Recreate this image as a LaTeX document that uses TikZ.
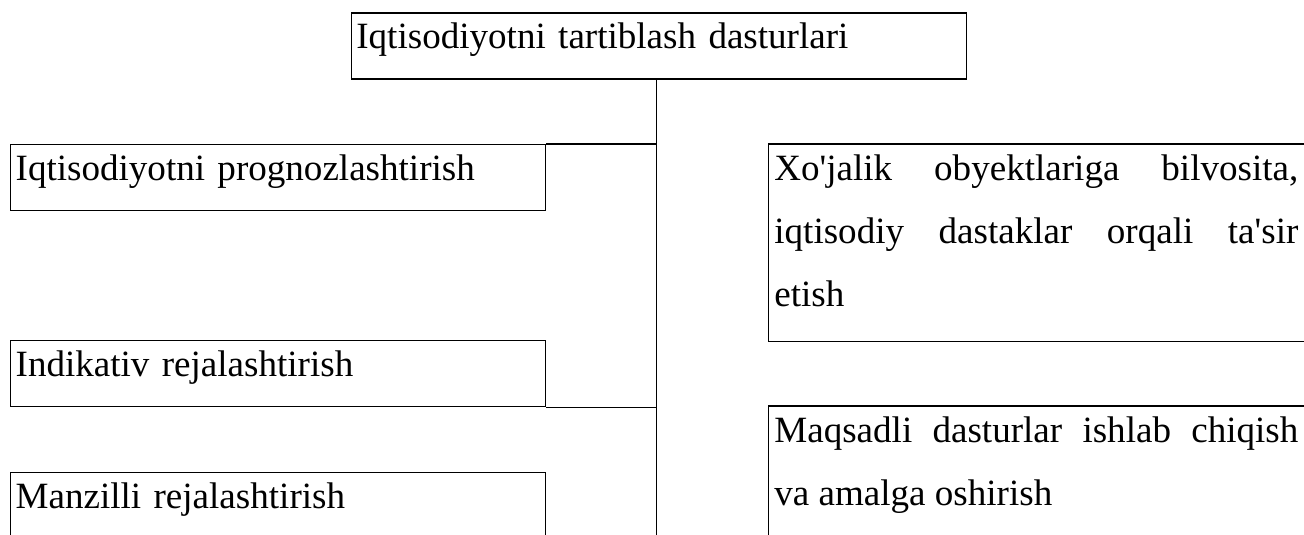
\documentclass[tikz,border=0pt]{standalone}
\usepackage{fontspec}
\setmainfont{Liberation Serif}

\tikzset{every picture/.style={line width=1pt}}
\tikzset{
  box/.style={draw, anchor=north west, inner xsep=3.75pt, inner ysep=0pt,
    text width=393.75pt, text height=27pt, text depth=22.5pt, align=left,
    font=\fontsize{27.8}{47.25}\selectfont},
  openbox/.style={anchor=north west, inner xsep=3.75pt, inner ysep=0pt,
    text width=393pt, text height=27pt, text depth=120pt, align=justify,
    font=\fontsize{27.8}{47.25}\selectfont,
    execute at begin node={\tolerance=10000 \hyphenpenalty=10000 }}
}

\begin{document}
\begin{tikzpicture}[x=0.75pt,y=0.75pt,yscale=-1,xscale=1]
\useasboundingbox (0,0) rectangle (1304,535);
\clip (0,0) rectangle (1304,535);

% Text Node
\node [box, text width=454pt] (plan) at (350.7,12.3) {Iqtisodiyotni tartiblash dasturlari};
% Text Node
\node [box] (prognoz) at (10,144) {Iqtisodiyotni prognozlashtirish};
% Text Node
\node [box] (indikativ) at (10,340) {Indikativ rejalashtirish};
% Text Node
\node [box] (manzilli) at (10,471.7) {Manzilli rejalashtirish};
% Text Node
\node [openbox] (xojalik) at (768.7,144) {Xo\textquotesingle jalik obyektlariga bilvosita,\linebreak iqtisodiy dastaklar orqali ta\textquotesingle sir\linebreak etish};
% Text Node
\node [openbox] (maqsadli) at (768.7,406) {Maqsadli dasturlar ishlab chiqish\linebreak va amalga oshirish};

\coordinate (stem) at (656.7,545);
\coordinate (rim) at (1312,0);

%Shape: Rectangle
\draw (rim |- xojalik.north) -- (xojalik.north west) -- (xojalik.south west) -- (rim |- xojalik.south);
%Shape: Rectangle
\draw (rim |- maqsadli.north) -- (maqsadli.north west) -- (maqsadli.south west) -- (rim |- maqsadli.south);

%Straight Lines
\draw (stem |- plan.south) -- (stem);
%Straight Lines
\draw (prognoz.north east) -- (prognoz.north east -| stem);
%Straight Lines
\draw (indikativ.south east) -- (indikativ.south east -| stem);

\end{tikzpicture}
\end{document}
